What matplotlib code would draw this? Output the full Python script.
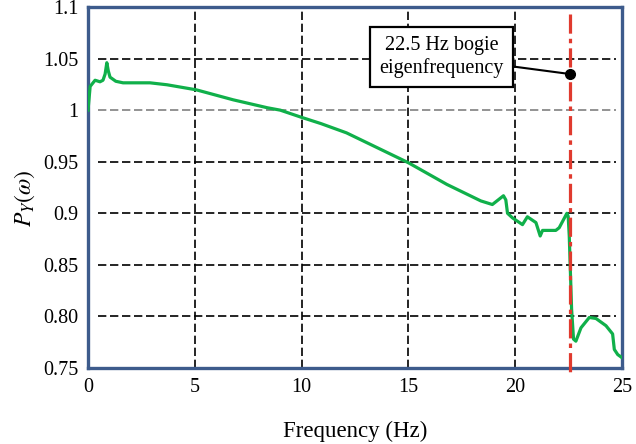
import matplotlib.pyplot as plt

freq = [0, 0.1, 0.33, 0.56, 0.7, 0.8, 0.88, 0.95, 1.03, 1.3, 1.64, 2.9, 3.7,
        5.07, 6.8, 8.4, 9.0, 10.0, 10.9, 12.1, 15.0, 16.8, 18.39, 18.93, 19.45,
        19.56, 19.64, 19.87, 20.34, 20.57, 20.97, 21.17, 21.28, 21.9, 22.06,
        22.42, 22.48, 22.53, 22.58, 22.64, 22.73, 22.84, 23.08, 23.47, 23.78,
        24.25, 24.56, 24.64, 24.8, 25.0]
py = [1.0, 1.023, 1.029, 1.0275, 1.029, 1.035, 1.046, 1.038, 1.032, 1.028,
      1.0265, 1.0265, 1.0246, 1.0197, 1.010, 1.0023, 1.0, 0.993, 0.987, 0.978,
      0.949, 0.928, 0.912, 0.9085, 0.917, 0.913, 0.900, 0.8956, 0.889, 0.8966,
      0.891, 0.878, 0.8834, 0.8834, 0.886, 0.900, 0.897, 0.878, 0.8456, 0.807,
      0.778, 0.776, 0.789, 0.799, 0.798, 0.791, 0.783, 0.768, 0.763, 0.760]

xticks = [0, 5, 10, 15, 20, 25]
yticks = [0.75, 0.80, 0.85, 0.90, 0.95, 1.0, 1.05, 1.1]
ytick_labels = ["0.75", "0.80", "0.85", "0.9", "0.95", "1", "1.05", "1.1"]

eigen_f = 22.57
marker_y = 1.035
note = "22.5 Hz bogie\neigenfrequency"

plt.rcParams['font.family'] = ['Liberation Serif', 'DejaVu Serif']
plt.rcParams['mathtext.fontset'] = 'stix'

fig = plt.figure(figsize=(6.36, 4.44), dpi=100)
ax = fig.add_axes([0.1384, 0.1712, 0.8396, 0.813])

ax.set_xlim(0, 25)
ax.set_ylim(0.75, 1.1)
ax.set_xticks(xticks)
ax.set_yticks(yticks)
ax.set_yticklabels(ytick_labels)
ax.tick_params(length=0, labelsize=14.5, pad=7)

# grid
for y in yticks[1:-1]:
    col = '#808080' if y == 1.0 else 'black'
    ax.axhline(y, xmin=0.019, xmax=0.989, color=col, lw=1.2,
               linestyle=(0, (5, 2.2)), zorder=1)
for x in xticks[1:-1]:
    ax.axvline(x, color='black', lw=1.2, linestyle=(0, (5, 2.2)), zorder=1)

ax.plot(freq, py, color='#10b04a', lw=2.3, zorder=3)

ax.plot([eigen_f, eigen_f], [1.093, 0.745], color='#e03a2e', lw=2.3,
        linestyle=(0, (6, 1.6, 1.4, 1.6)), clip_on=False, zorder=4)

ax.plot(eigen_f, marker_y, 'o', color='black', ms=7, zorder=5)
ax.annotate(note, xy=(eigen_f, marker_y), xytext=(16.55, 1.0515),
            ha='center', va='center', ma='center', fontsize=14.5,
            bbox=dict(boxstyle='square,pad=0.45', fc='white', ec='black', lw=1.6),
            arrowprops=dict(arrowstyle='-', color='black', lw=1.5,
                            shrinkA=0, shrinkB=0), zorder=6)

for s in ax.spines.values():
    s.set_color('#3d5b8c')
    s.set_linewidth(2.4)

ax.set_xlabel("Frequency (Hz)", fontsize=16.5, labelpad=17)
ax.set_ylabel(r"$P_Y(\omega)$", fontsize=17)
ax.yaxis.set_label_coords(-0.095, 0.47)

fig.savefig("out.png", dpi=100)
